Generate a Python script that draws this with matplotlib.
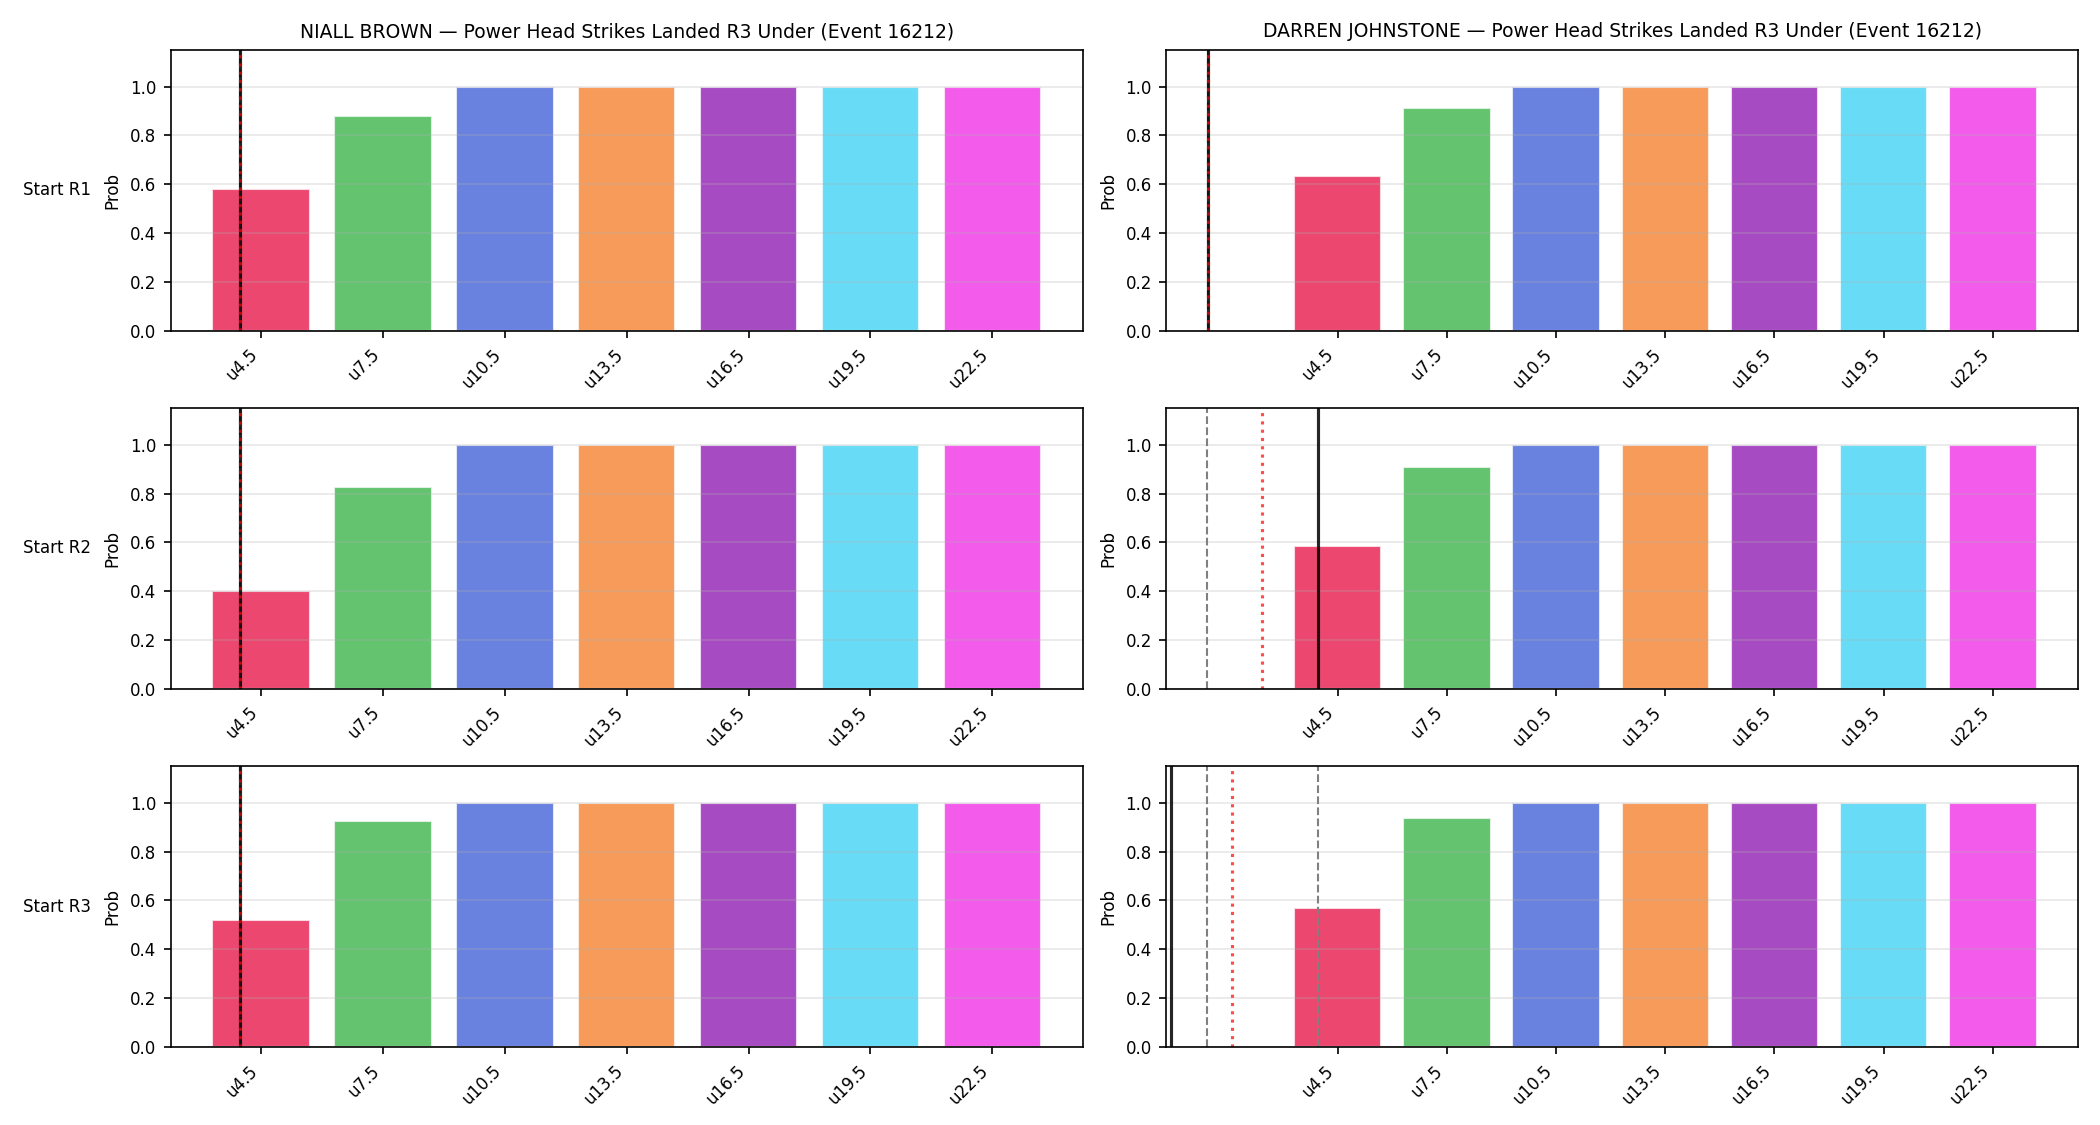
import matplotlib
matplotlib.use("Agg")
import matplotlib.pyplot as plt
import numpy as np

# ---- data ----
fighters = ["NIALL BROWN", "DARREN JOHNSTONE"]
rows = ["Start R1", "Start R2", "Start R3"]
categories = ["u4.5", "u7.5", "u10.5", "u13.5", "u16.5", "u19.5", "u22.5"]

niall_probs = [
    [0.582, 0.881, 1.0, 1.0, 1.0, 1.0, 1.0],
    [0.401, 0.828, 1.0, 1.0, 1.0, 1.0, 1.0],
    [0.521, 0.926, 1.0, 1.0, 1.0, 1.0, 1.0],
]
darren_probs = [
    [0.635, 0.914, 1.0, 1.0, 1.0, 1.0, 1.0],
    [0.585, 0.908, 1.0, 1.0, 1.0, 1.0, 1.0],
    [0.571, 0.939, 1.0, 1.0, 1.0, 1.0, 1.0],
]

# reference-line positions on the category axis (per fighter, per row)
solid_pos = [[-0.17, -0.17, -0.17], [-1.19, -0.18, -1.53]]
dashed_pos = [[-0.17, -0.17, -0.17], [-1.19, -1.20, -1.20]]
dotted_pos = [[-0.17, -0.17, -0.17], [-1.19, -0.69, -0.97]]
dashed2_pos = [[None, None, None], [None, None, -0.18]]

bar_colors = ["#e6194b", "#3cb44b", "#4363d8", "#f58231", "#911eb4", "#42d4f4", "#f032e6"]
event_title = "Power Head Strikes Landed R3 Under (Event 16212)"

# ---- plot ----
fig, axes = plt.subplots(3, 2, figsize=(14, 7.5), dpi=150)
fig.subplots_adjust(left=0.0814, right=0.9895, top=0.9556, bottom=0.0693,
                    wspace=0.092, hspace=0.274)

all_probs = [niall_probs, darren_probs]
x = np.arange(len(categories))
for c in range(2):
    for r in range(3):
        ax = axes[r, c]
        ax.bar(x, all_probs[c][r], color=bar_colors, alpha=0.8,
               edgecolor="white", linewidth=1, width=0.8)
        ax.axvline(dashed_pos[c][r], color="gray", lw=1, ls="--")
        if dashed2_pos[c][r] is not None:
            ax.axvline(dashed2_pos[c][r], color="gray", lw=1, ls="--")
        ax.axvline(solid_pos[c][r], color="k", lw=1.5, alpha=0.85)
        ax.axvline(dotted_pos[c][r], color="red", lw=1.5, ls=":", alpha=0.7)
        ax.set_ylim(0, 1.15)
        ax.set_yticks([0, 0.2, 0.4, 0.6, 0.8, 1.0])
        ax.set_xticks(x)
        ax.set_xticklabels(categories, rotation=45, ha="right", fontsize=8)
        ax.tick_params(axis="y", labelsize=8)
        ax.set_ylabel("Prob", fontsize=8)
        ax.grid(axis="y", alpha=0.3)
        if r == 0:
            ax.set_title(f"{fighters[c]} \u2014 {event_title}", fontsize=9)

# right column: common x-limits
ref_lim = axes[0, 1].get_xlim()
for r in range(3):
    axes[r, 1].set_xlim(ref_lim)

for r in range(3):
    pos = axes[r, 0].get_position()
    fig.text(0.011, (pos.y0 + pos.y1) / 2, rows[r], fontsize=8, ha="left", va="center")

fig.savefig("out.png", dpi=150)
